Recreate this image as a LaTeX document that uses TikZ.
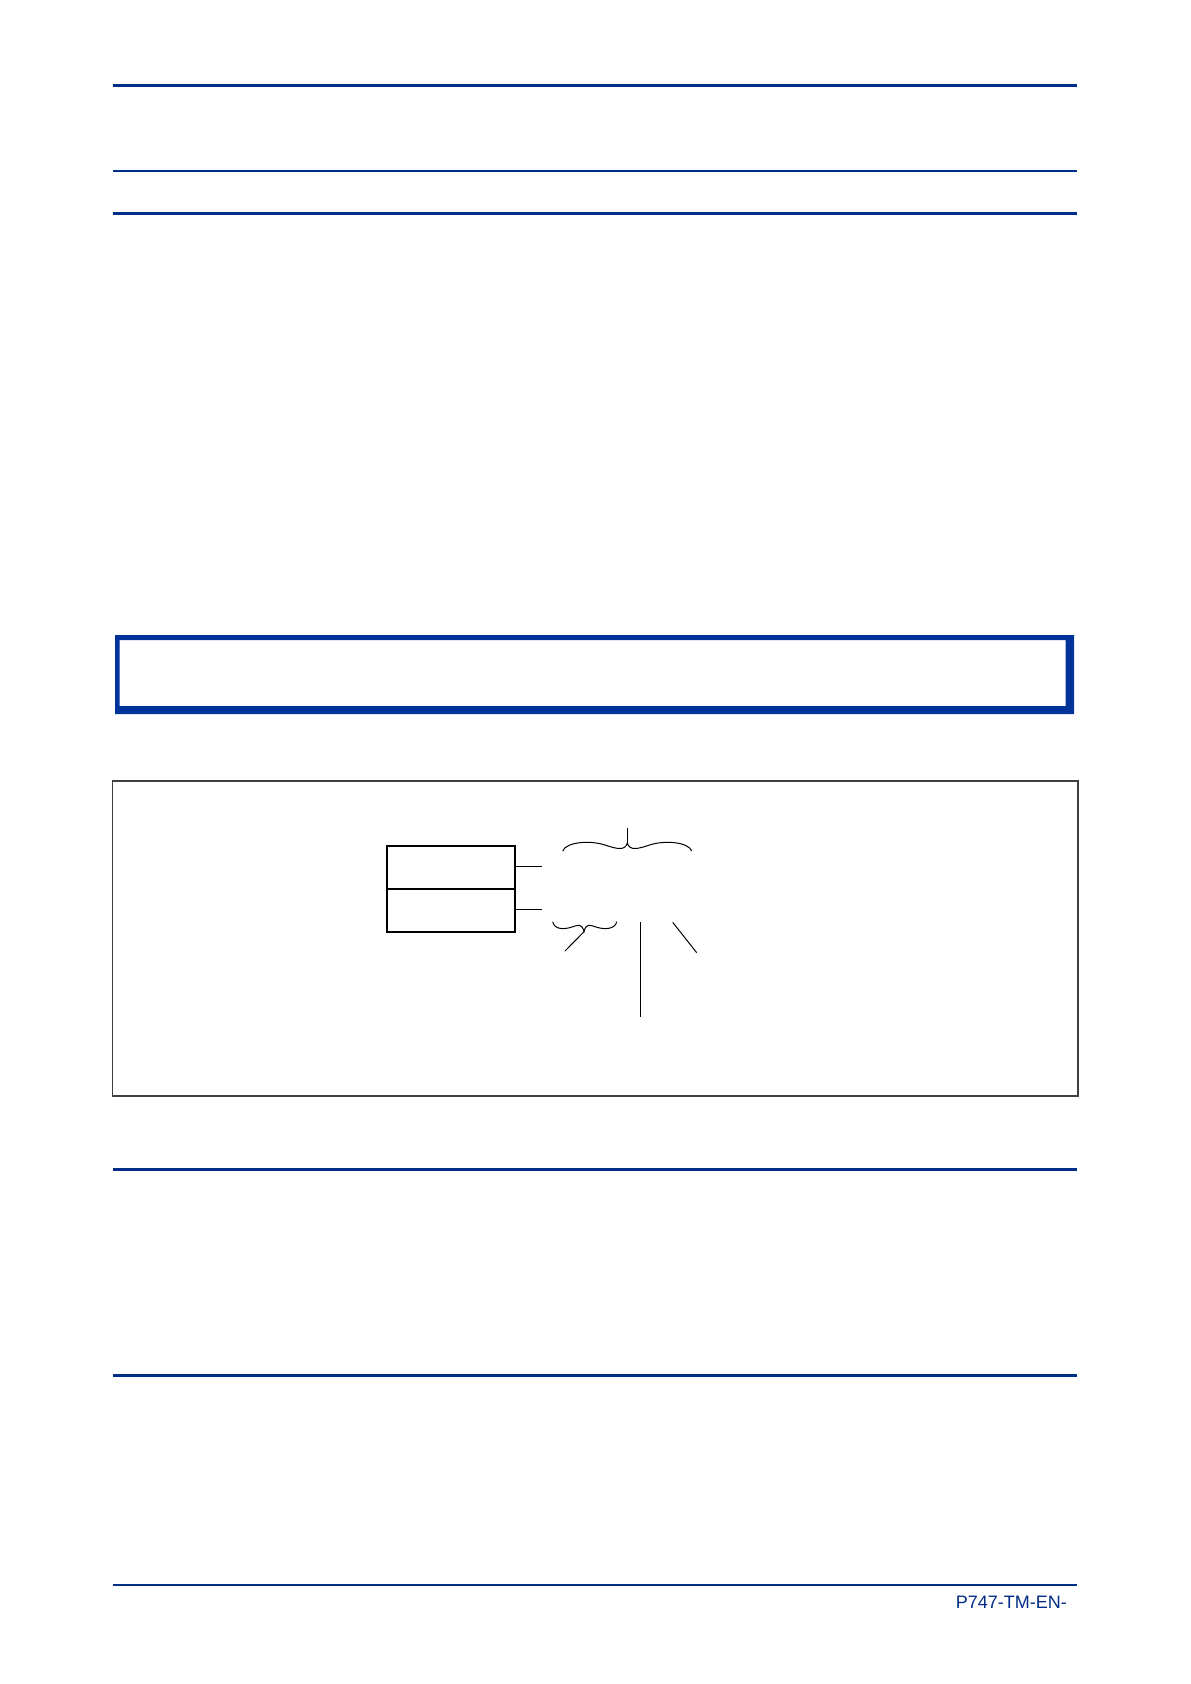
\documentclass[tikz,border=0pt]{standalone}
\usepackage{fontspec}
\setmainfont{Liberation Sans}
\definecolor{rule}{RGB}{0,45,135}
\definecolor{boxblue}{RGB}{0,51,153}
\definecolor{framegray}{RGB}{64,64,64}
\begin{document}
\begin{tikzpicture}[x=1pt,y=-1pt,
  hrule/.style={draw=rule,line width=2.5pt},
  cell/.style={draw=black,line width=1.9pt,minimum width=128.6pt,minimum height=42.7pt,inner sep=0pt,anchor=north west},
  thinline/.style={draw=black,line width=1pt},
  bracepath/.style={draw=black,line width=1pt}]
\useasboundingbox (0,0) rectangle (1191,1684);
\fill[white] (0,0) rectangle (1191,1684);
% horizontal rules
\foreach \yy in {85.7,171,213.3,1169.5,1375.7,1585}
  \draw[hrule] (113,\yy) -- (1077,\yy);
% blue box
\fill[boxblue,even odd rule] (115,635) rectangle (1074,714) (119.5,640) rectangle (1065.7,706);
% diagram frame
\draw[framegray,line width=1.2pt] (112.3,781) rectangle (1078,1096);
\draw[framegray,line width=2pt] (1078,781) -- (1078,1096);
% boxes
\node[cell] (top) at (385.7,845.3) {};
\node[cell] (bot) at (385.7,888) {};
\coordinate (s1) at (541.7,866.7);
\coordinate (s2) at (541.7,909.3);
\draw[thinline] (top.east |- s1) -- (s1);
\draw[thinline] (bot.east |- s2) -- (s2);
% top brace
\coordinate (bl) at (562.7,851);
\coordinate (bc) at (627.3,843);
\coordinate (br) at (691.7,851);
\coordinate (bt) at (627.3,828);
\draw[bracepath] (bl) .. controls (566,842) and (590,840) .. (605,845)
  .. controls (617,849) and (625,851) .. (bc)
  .. controls (629.6,851) and (637.6,849) .. (649.6,845)
  .. controls (664.6,840) and (688.4,842) .. (br);
\draw[thinline] (bc) -- (bt);
% small brace
\coordinate (sl) at (552.7,921.7);
\coordinate (sc) at (584,931.7);
\coordinate (sr) at (616.7,921.7);
\coordinate (sd) at (565,951);
\draw[bracepath] (sl) .. controls (554,929) and (563,930) .. (572,927)
  .. controls (578,925) and (582,923) .. (sc)
  .. controls (586,923) and (590,925) .. (596,927)
  .. controls (605,930) and (615.4,929) .. (sr);
\draw[thinline] (sc) -- (sd);
% vertical and diagonal lines
\coordinate (v1) at (640,922.3);
\coordinate (v2) at (640,1016.7);
\draw[thinline] (v1) -- (v2);
\coordinate (d1) at (672.7,922.3);
\coordinate (d2) at (696.7,952.7);
\draw[thinline] (d1) -- (d2);
% footer
\node[text=rule,font=\fontsize{18}{21}\selectfont,anchor=east,inner sep=0pt] (foot) at (1067,1602) {P747-TM-EN-};
\end{tikzpicture}
\end{document}
